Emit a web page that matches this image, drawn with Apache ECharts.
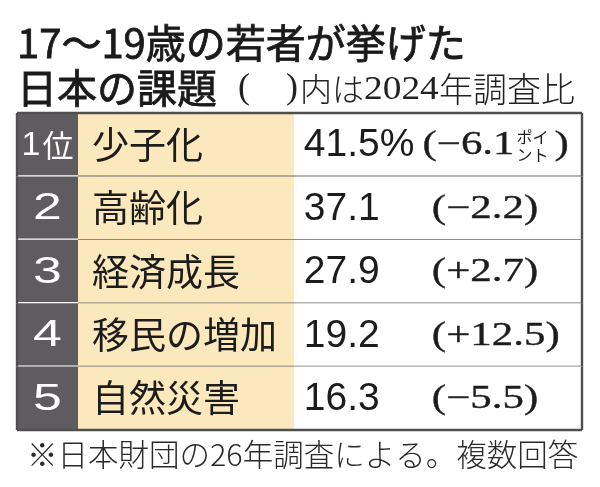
<!DOCTYPE html>
<html>
<head>
<meta charset="utf-8">
<script src="https://cdn.jsdelivr.net/npm/echarts@6/dist/echarts.min.js"></script>
<style>
  html, body { margin: 0; padding: 0; background: #ffffff; }
  #chart { width: 600px; height: 487px; }
</style>
</head>
<body>
<div id="chart"></div>
<script>
// ---- data ----
const ranks = ['1位', '2', '3', '4', '5'];
const issues = ['少子化', '高齢化', '経済成長', '移民の増加', '自然災害'];
const shares = [41.5, 37.1, 27.9, 19.2, 16.3];
const changes = [-6.1, -2.2, 2.7, 12.5, -5.5];
const titleLine1 = '17〜19歳の若者が挙げた';
const titleLine2 = '日本の課題';
const noteYear = '2024';
const footnote = '※日本財団の26年調査による。複数回答';

// ---- styling ----
const SANS = '"Liberation Sans", Arial, sans-serif';
const CJK = '"Noto Sans CJK JP", sans-serif';
const SERIF = '"Liberation Serif", "DejaVu Serif", serif';
const RANK_BG = '#5e5c61';
const LABEL_BG = '#fbe8bd';
const BORDER = '#4f4f4f';
const TEXT = '#1c1c1c';
const COL_RANK_END = 0.108;   // fraction of table width
const COL_LABEL_END = 0.49;
const CHANGE_SCALE = 1.3;
const CHANGE_FONT_SIZE = 33;
const VALUE_FONT_SIZE = 39;

const mctx = document.createElement('canvas').getContext('2d');
function measure(text, font) { mctx.font = font; return mctx.measureText(text).width; }

function fmtChange(v) {
  return (v < 0 ? '−' : '+') + Math.abs(v).toFixed(1);
}

function serifStyle(text) {
  return { text: text, align: 'left', verticalAlign: 'middle',
    fontFamily: SERIF, fontSize: CHANGE_FONT_SIZE, fill: TEXT, stroke: TEXT, lineWidth: 0.35 };
}

function renderItem(params, api) {
  const i = params.dataIndex;
  const cs = params.coordSys;
  const x0 = cs.x, x1 = cs.x + cs.width;
  const cy = api.coord([0, i])[1];
  const h = api.size([0, 1])[1];
  const top = cy - h / 2, bottom = cy + h / 2;
  const xr = api.coord([COL_RANK_END, i])[0];
  const xl = api.coord([COL_LABEL_END, i])[0];
  const children = [];

  // backgrounds
  children.push({ type: 'rect', shape: { x: xl, y: top, width: x1 - xl, height: h }, style: { fill: '#ffffff' } });
  children.push({ type: 'rect', shape: { x: xr, y: top, width: xl - xr, height: h }, style: { fill: LABEL_BG } });
  children.push({ type: 'rect', shape: { x: x0, y: top, width: xr - x0, height: h }, style: { fill: RANK_BG } });

  // separators
  if (i < issues.length - 1) {
    children.push({ type: 'line', shape: { x1: xr, y1: bottom, x2: x1, y2: bottom }, style: { stroke: '#6a6a6a', lineWidth: 1.6 } });
    children.push({ type: 'line', shape: { x1: x0, y1: bottom, x2: xr, y2: bottom }, style: { stroke: '#ffffff', lineWidth: 2.4 } });
  }
  // outer border
  if (i === 0) {
    children.push({ type: 'line', shape: { x1: x0, y1: top, x2: x1, y2: top }, style: { stroke: BORDER, lineWidth: 2.4 } });
  }
  if (i === issues.length - 1) {
    children.push({ type: 'line', shape: { x1: x0, y1: bottom, x2: x1, y2: bottom }, style: { stroke: BORDER, lineWidth: 2.4 } });
  }
  children.push({ type: 'line', shape: { x1: x1, y1: top, x2: x1, y2: bottom }, style: { stroke: BORDER, lineWidth: 2.4 } });
  children.push({ type: 'line', shape: { x1: x0, y1: top, x2: x0, y2: bottom }, style: { stroke: BORDER, lineWidth: 2.4 } });

  // rank
  if (i === 0) {
    children.push({ type: 'text', x: (x0 + xr) / 2, y: cy + 1, style: {
      text: '{d|1}{k|位}', align: 'center', verticalAlign: 'middle',
      rich: {
        d: { fontFamily: SANS, fontSize: 34, fill: '#ffffff', padding: [0, 2, 0, 0] },
        k: { fontFamily: CJK, fontSize: 31, fill: '#ffffff' }
      } } });
  } else {
    children.push({ type: 'text', x: (x0 + xr) / 2, y: cy + 1, scaleX: 1.4, style: {
      text: ranks[i], align: 'center', verticalAlign: 'middle',
      fontFamily: SANS, fontSize: 37, fill: '#ffffff' } });
  }

  // label
  children.push({ type: 'text', x: xr + 14, y: cy, style: {
    text: issues[i], align: 'left', verticalAlign: 'middle',
    fontFamily: CJK, fontSize: 37, fill: TEXT } });

  // share value
  const valText = shares[i].toFixed(1) + (i === 0 ? '%' : '');
  const valFont = VALUE_FONT_SIZE + 'px ' + SANS;
  const vx = xl + 10;
  children.push({ type: 'text', x: vx, y: cy + 1, style: {
    text: valText, align: 'left', verticalAlign: 'middle',
    fontFamily: SANS, fontSize: VALUE_FONT_SIZE, fill: TEXT } });

  // change vs 2024
  const chFont = CHANGE_FONT_SIZE + 'px ' + SERIF;
  if (i === 0) {
    const valEnd = vx + measure(valText, valFont);
    const cx = valEnd + 8;
    const main = '(' + fmtChange(changes[i]);
    children.push({ type: 'text', x: cx, y: cy + 1, scaleX: CHANGE_SCALE, style: serifStyle(main) });
    const mainEnd = cx + measure(main, chFont) * CHANGE_SCALE + 2;
    children.push({ type: 'text', x: mainEnd, y: cy - 8, style: {
      text: 'ポイ', align: 'left', verticalAlign: 'middle',
      fontFamily: CJK, fontSize: 16, fill: TEXT } });
    children.push({ type: 'text', x: mainEnd, y: cy + 10, style: {
      text: 'ント', align: 'left', verticalAlign: 'middle',
      fontFamily: CJK, fontSize: 16, fill: TEXT } });
    children.push({ type: 'text', x: mainEnd + 38, y: cy + 1, scaleX: CHANGE_SCALE, style: serifStyle(')') });
  } else {
    children.push({ type: 'text', x: xl + 138, y: cy + 1, scaleX: CHANGE_SCALE,
      style: serifStyle('(' + fmtChange(changes[i]) + ')') });
  }

  return { type: 'group', children: children };
}

function t(x, y, text, font, extra) {
  return Object.assign({ type: 'text', x: x, y: y, silent: true,
    style: Object.assign({ text: text, align: 'left', verticalAlign: 'middle', fill: '#1a1a1a' }, font) }, extra || {});
}

const titleFont = { fontFamily: CJK, fontSize: 40, fontWeight: 'normal', fill: '#1a1a1a', stroke: '#1a1a1a', lineWidth: 0.8 };
const noteFont = { fontFamily: CJK, fontSize: 32, fontWeight: 300, fill: '#222' };
const noteFont2 = { fontFamily: CJK, fontSize: 34, fontWeight: 300, fill: '#222' };
const noteSerif = { fontFamily: SERIF, fontSize: 36, fontWeight: 'normal', fill: '#222' };

const chart = echarts.init(document.getElementById('chart'), null, { renderer: 'canvas' });
chart.setOption({
  animation: false,
  backgroundColor: '#ffffff',
  graphic: [
    t(17, 43, titleLine1, titleFont),
    t(17, 88, titleLine2, titleFont),
    t(238, 89, '(', noteSerif),
    t(286, 89, ')', noteSerif),
    t(300, 89, '内は', noteFont),
    t(364, 90, noteYear, { fontFamily: SERIF, fontSize: 34, fill: '#222' }, { scaleX: 1.1 }),
    t(439, 89, '年調査比', noteFont2),
    t(27, 454, footnote, { fontFamily: CJK, fontSize: 30.5, fontWeight: 300, fill: '#2a2a2a' })
  ],
  grid: { left: 17, top: 113, width: 565, height: 317 },
  xAxis: { type: 'value', min: 0, max: 1, show: false },
  yAxis: { type: 'category', data: issues, inverse: true, show: false },
  series: [{
    type: 'custom',
    renderItem: renderItem,
    data: shares.map((v, i) => [v, i]),
    encode: { x: -1, y: 1 },
    clip: false
  }]
});
</script>
</body>
</html>
